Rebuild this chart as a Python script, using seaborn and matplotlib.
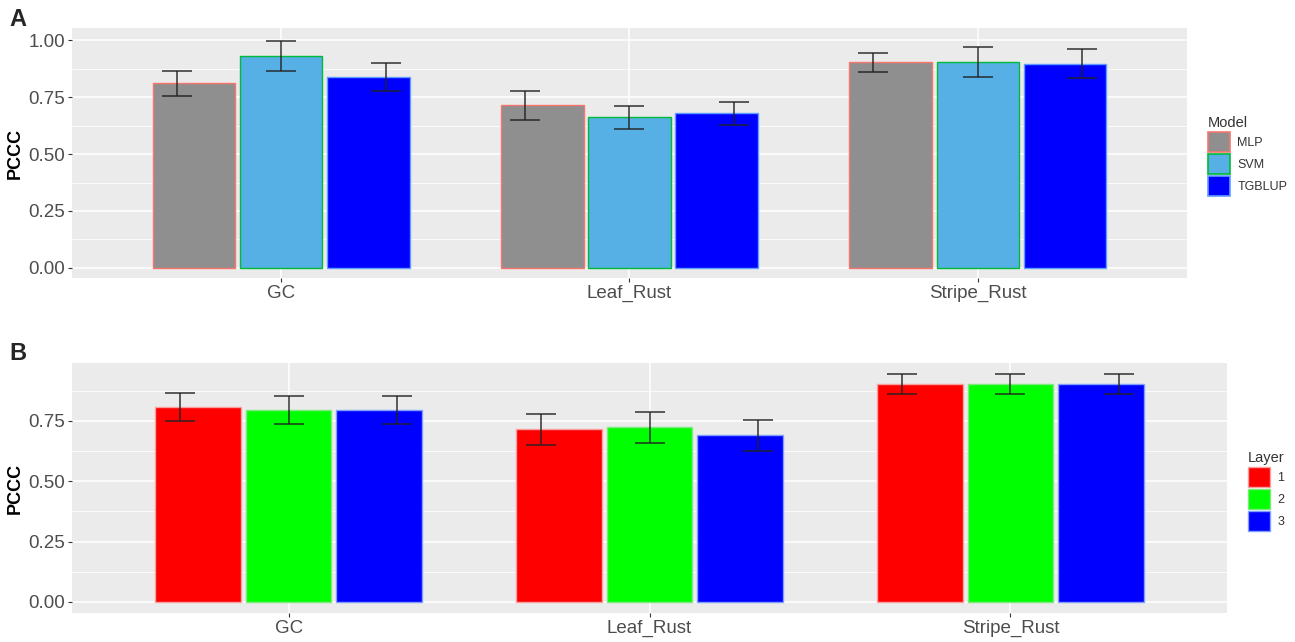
import numpy as np
import pandas as pd
import matplotlib
matplotlib.use("Agg")
import matplotlib.pyplot as plt
from matplotlib.patches import Patch
from matplotlib.ticker import MultipleLocator
import seaborn as sns

# ---- data -------------------------------------------------------------
traits = ["GC", "Leaf_Rust", "Stripe_Rust"]

models = ["MLP", "SVM", "TGBLUP"]
pccc_mlp = [0.810, 0.714, 0.902]
pccc_svm = [0.930, 0.661, 0.903]
pccc_tgblup = [0.838, 0.678, 0.897]
sd_mlp = [0.056, 0.064, 0.042]
sd_svm = [0.066, 0.050, 0.065]
sd_tgblup = [0.060, 0.049, 0.065]

layers = ["1", "2", "3"]
pccc_l1 = [0.807, 0.715, 0.902]
pccc_l2 = [0.796, 0.723, 0.902]
pccc_l3 = [0.796, 0.690, 0.902]
sd_l1 = [0.057, 0.064, 0.041]
sd_l2 = [0.057, 0.065, 0.041]
sd_l3 = [0.057, 0.064, 0.041]

yticks_a = [0.00, 0.25, 0.50, 0.75, 1.00]
yticks_b = [0.00, 0.25, 0.50, 0.75]

# ---- styling ----------------------------------------------------------
sns.set_theme(style="white")
plt.rcParams["font.family"] = ["Liberation Sans", "DejaVu Sans"]

model_fill = ["#8f8f8f", "#56b0e6", "#0000ff"]
model_edge = ["#f8766d", "#00ba38", "#619cff"]
layer_fill = ["#ff0000", "#00ff00", "#0000ff"]
layer_edge = ["#f8a0a0", "#7fe87f", "#7f9fff"]

PANEL_BG = "#ebebeb"
TICK_TXT = "#4d4d4d"


def long_table(group_name, groups, values, errs):
    rows = []
    for g, vals, es in zip(groups, values, errs):
        for t, v, e in zip(traits, vals, es):
            rows.append({"Trait": t, group_name: g, "PCCC": v, "SD": e})
    return pd.DataFrame(rows)


def draw_panel(ax, df, group_name, groups, fills, edges, ylim, yticks):
    ax.set_facecolor(PANEL_BG)
    sns.barplot(data=df, x="Trait", y="PCCC", hue=group_name,
                order=traits, hue_order=groups, palette=fills,
                width=0.75, gap=0.05, errorbar=None, legend=False,
                saturation=1, ax=ax, zorder=3)
    for cont, ec in zip(ax.containers, edges):
        for bar in cont:
            bar.set_edgecolor(ec)
            bar.set_linewidth(1.0)
    # error bars, dodged wider than the bars
    offsets = [-0.30, 0.0, 0.30]
    for g, off in zip(groups, offsets):
        sub = df[df[group_name] == g].set_index("Trait").loc[traits]
        xs = np.arange(len(traits)) + off
        ax.errorbar(xs, sub["PCCC"].values, yerr=sub["SD"].values,
                    fmt="none", ecolor="#222222", elinewidth=1.2,
                    capsize=11, capthick=1.2, zorder=4, alpha=0.85)
    ax.set_xlim(-0.6, 2.6)
    ax.set_ylim(*ylim)
    ax.set_yticks(yticks)
    ax.set_yticklabels([f"{v:.2f}" for v in yticks])
    ax.yaxis.set_minor_locator(MultipleLocator(0.125))
    ax.grid(True, which="major", axis="both", color="white", lw=1.1, zorder=0)
    ax.grid(True, which="minor", axis="y", color="white", lw=0.55, zorder=0)
    ax.set_axisbelow(True)
    for s in ax.spines.values():
        s.set_visible(False)
    ax.tick_params(axis="both", which="major", length=3, width=0.8,
                   color="#333333", labelcolor=TICK_TXT, labelsize=13.5,
                   pad=2, left=True, bottom=True)
    ax.tick_params(axis="y", which="minor", length=0)
    ax.set_xlabel("")
    ax.set_ylabel("PCCC", fontsize=13, fontweight="bold", color="black",
                  labelpad=4)


fig = plt.figure(figsize=(12.95, 6.42), dpi=100)
W, H = 1295, 642

ax_a = fig.add_axes([72 / W, 1 - 278 / H, (1187 - 72) / W, 250 / H])
ax_b = fig.add_axes([72 / W, 1 - 613 / H, (1227 - 72) / W, 250 / H])

df_a = long_table("Model", models,
                  [pccc_mlp, pccc_svm, pccc_tgblup],
                  [sd_mlp, sd_svm, sd_tgblup])
df_b = long_table("Layer", layers,
                  [pccc_l1, pccc_l2, pccc_l3],
                  [sd_l1, sd_l2, sd_l3])

draw_panel(ax_a, df_a, "Model", models, model_fill, model_edge,
           (-0.044, 1.053), yticks_a)
draw_panel(ax_b, df_b, "Layer", layers, layer_fill, layer_edge,
           (-0.0456, 0.990), yticks_b)

ax_a.yaxis.set_label_coords(-0.0435, 0.5)
ax_b.yaxis.set_label_coords(-0.042, 0.5)


def add_legend(handles, labels, title, x0, y0):
    leg = fig.legend(handles, labels, title=title, loc="upper left",
                     bbox_to_anchor=(x0 / W, 1 - y0 / H), frameon=False,
                     fontsize=9, title_fontsize=10.5, handlelength=1.75,
                     handleheight=2.15, handletextpad=0.6, labelspacing=0.12,
                     borderaxespad=0, borderpad=0)
    leg._legend_box.align = "left"
    for t in leg.get_texts():
        t.set_color("#333333")
    leg.get_title().set_color("#333333")
    return leg


handles_a = [Patch(facecolor=f, edgecolor=e, lw=1.2)
             for f, e in zip(model_fill, model_edge)]
add_legend(handles_a, models, "Model", 1208, 116)

handles_b = [Patch(facecolor=f, edgecolor=e, lw=1.0)
             for f, e in zip(layer_fill, layer_edge)]
add_legend(handles_b, layers, "Layer", 1248, 451)

# panel tags
fig.text(9 / W, 1 - 20 / H, "A", fontsize=17, fontweight="bold",
         va="center", ha="left")
fig.text(9 / W, 1 - 354 / H, "B", fontsize=17, fontweight="bold",
         va="center", ha="left")

fig.savefig("out.png", dpi=100, facecolor="white")
